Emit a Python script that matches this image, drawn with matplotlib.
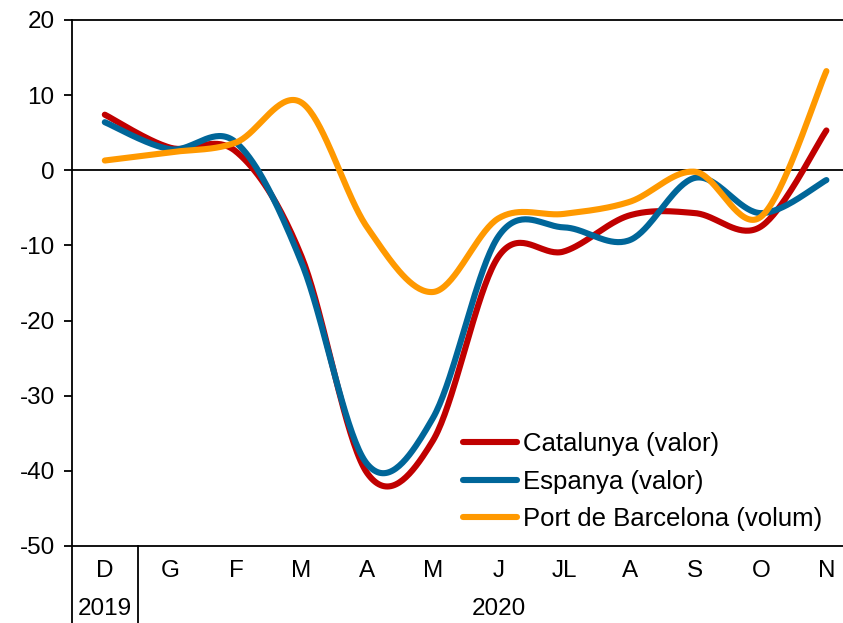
import numpy as np
import matplotlib
matplotlib.use("Agg")
import matplotlib.pyplot as plt
import matplotlib.transforms as mtransforms

plt.rcParams['font.family'] = ['Liberation Sans', 'DejaVu Sans']
plt.rcParams['axes.unicode_minus'] = False

# ---- data ----
months = ["D", "G", "F", "M", "A", "M", "J", "JL", "A", "S", "O", "N"]
years = ["2019", "2020"]
catalunya = [7.4, 3.0, 2.5, -11.5, -40.3, -36.0, -11.5, -10.8, -6.0, -5.7, -7.5, 5.3]
espanya = [6.4, 2.8, 3.7, -12.3, -39.1, -33.0, -8.8, -7.6, -9.3, -1.0, -5.7, -1.3]
port_bcn = [1.3, 2.4, 3.7, 9.0, -7.6, -16.2, -6.4, -5.8, -4.2, -0.2, -6.2, 13.2]
labels = ["Catalunya (valor)", "Espanya (valor)", "Port de Barcelona (volum)"]
colors = ["#C00000", "#006699", "#FF9900"]


def smooth(xs, ys, n=40):
    """Catmull-Rom style smoothing (like Excel smoothed lines)."""
    P = np.column_stack([xs, ys]).astype(float)
    Pp = np.vstack([P[0], P, P[-1]])
    out = []
    for i in range(len(P) - 1):
        p0, p1, p2, p3 = Pp[i], Pp[i + 1], Pp[i + 2], Pp[i + 3]
        c1 = p1 + (p2 - p0) / 6.0
        c2 = p2 - (p3 - p1) / 6.0
        t = np.linspace(0, 1, n)[:, None]
        seg = ((1 - t) ** 3) * p1 + 3 * ((1 - t) ** 2) * t * c1 + 3 * (1 - t) * t ** 2 * c2 + t ** 3 * p2
        out.append(seg if i == 0 else seg[1:])
    out = np.vstack(out)
    return out[:, 0], out[:, 1]


W, H = 843, 623
fig = plt.figure(figsize=(W / 100, H / 100), dpi=100)
left, right, top, bottom = 72, 843, 20, 546
ax = fig.add_axes([left / W, 1 - bottom / H, (right - left) / W, (bottom - top) / H])

x = np.arange(len(months))
for series, lab, col in zip([catalunya, espanya, port_bcn], labels, colors):
    sx, sy = smooth(x, series)
    ax.plot(sx, sy, color=col, lw=4.4, label=lab, solid_capstyle='round', zorder=3)

ax.axhline(0, color='black', lw=1.3, zorder=2)

ax.set_xlim(-0.5, -0.5 + (right - left) / 65.6)
ax.set_ylim(-50, 20)
ax.set_yticks(np.arange(-50, 21, 10))
ax.tick_params(axis='y', direction='out', length=5.5, width=1.3, labelsize=17.5, pad=7)
ax.set_xticks(x)
ax.set_xticklabels(months)
ax.tick_params(axis='x', length=0, labelsize=17.5, pad=10)

for s in ['left', 'bottom', 'top']:
    ax.spines[s].set_linewidth(1.3)
ax.spines['right'].set_visible(False)

# multi-level category axis separators
trans = mtransforms.blended_transform_factory(ax.transData, ax.transAxes)
ext = -(H - bottom) / (bottom - top)
ax.plot([0.5, 0.5], [0, ext], transform=trans, color='black', lw=1.3, clip_on=False)
ax.plot([-0.5, -0.5], [0, ext], transform=trans, color='black', lw=1.3, clip_on=False)
ypos = -(609 - bottom) / (bottom - top)
ax.text(0, ypos, years[0], transform=trans, ha='center', va='center', fontsize=17.5)
ax.text((1 + len(months) - 1) / 2, ypos, years[1], transform=trans, ha='center', va='center', fontsize=17.5)

leg = ax.legend(loc='lower left', bbox_to_anchor=((463 - left) / (right - left), (bottom - 531) / (bottom - top)),
                frameon=False, fontsize=18.5, handlelength=2.1, handletextpad=0.25,
                labelspacing=0.52, borderpad=0, borderaxespad=0)

fig.savefig("out.png", dpi=100)
